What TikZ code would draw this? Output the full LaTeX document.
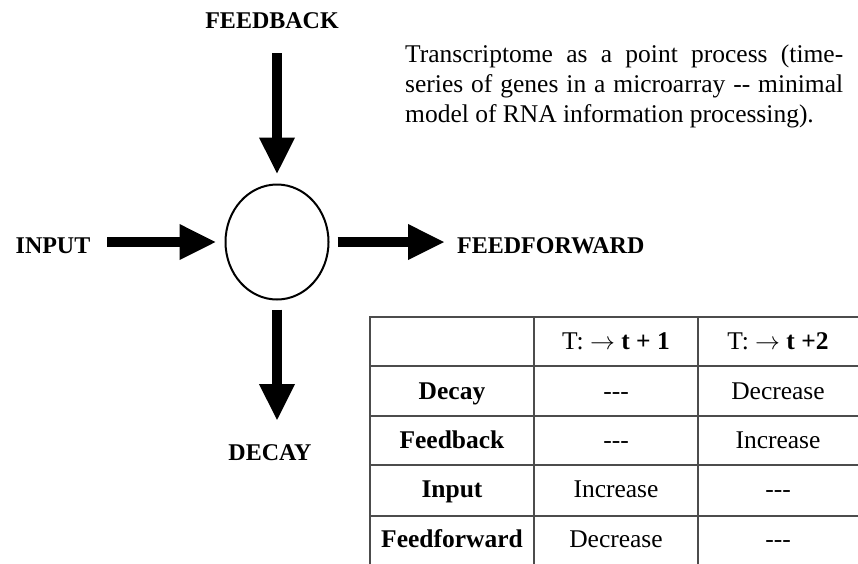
\documentclass[tikz,border=0pt]{standalone}
\usepackage{fontspec}
\setmainfont{Liberation Serif}
\usetikzlibrary{arrows.meta,shapes.geometric}

\newcommand{\nochange}{{-}{-}{-}}

\begin{document}
\begin{tikzpicture}[
        x=1pt, y=-1pt,
        fat/.style={line width=10pt, -{Triangle[width=33pt,length=37pt]}},
        lbl/.style={font=\fontsize{24}{28}\selectfont\bfseries, inner sep=0pt},
        tcell/.style={font=\fontsize{25.5}{28}\selectfont, inner sep=0pt,
            text height=0.7em, text depth=0.25em},
        thead/.style={tcell, font=\fontsize{25.5}{28}\selectfont\bfseries},
        tline/.style={black!70, line width=1.2pt},
    ]
    \useasboundingbox (0,0) rectangle (858,563);
    % node and its four flows
    \node[ellipse, draw, line width=2pt, minimum width=103pt, minimum height=115pt,
          inner sep=0pt] (cell) at (277,242) {};
    \node[lbl] (feedback) at (272,21) {FEEDBACK};
    \node[lbl] (input) at (53,246) {INPUT};
    \node[lbl, anchor=west] (feedforward) at (457,246) {FEEDFORWARD};
    \node[lbl] (decay) at (270,453) {DECAY};
    \coordinate (fbstart) at (277,53);
    \coordinate (instart) at (107,242);
    \coordinate (ffend) at (445,242);
    \coordinate (dcend) at (277,421);
    \draw[fat, shorten >=9pt] (fbstart) -- (cell.north);
    \draw[fat, shorten >=8pt] (instart) -- (cell.west);
    \draw[fat, shorten <=8pt] (cell.east) -- (ffend);
    \draw[fat, shorten <=9pt] (cell.south) -- (dcend);
    % caption
    \node[anchor=north west, inner sep=0pt, text width=438pt, align=justify,
          font=\fontsize{25.5}{30}\selectfont] (caption) at (405,45)
        {Transcriptome as a point process (time-\linebreak
         series of genes in a microarray {-}{-} minimal\linebreak
         model of RNA information processing).};
    % table
    \draw[tline] (370,317) rectangle (862,568);
    \foreach \y in {366,416,465,516} \draw[tline] (370,\y) -- (862,\y);
    \foreach \x in {534,698} \draw[tline] (\x,317) -- (\x,568);
    \node[tcell] (h1) at (616,347) {T: $\rightarrow$ \textbf{t + 1}};
    \node[tcell] (h2) at (778,347) {T: $\rightarrow$ \textbf{t +2}};
    \node[thead] (r1) at (452,397) {Decay};
    \node[thead] (r2) at (452,446) {Feedback};
    \node[thead] (r3) at (452,495) {Input};
    \node[thead] (r4) at (452,545) {Feedforward};
    \node[tcell] (c11) at (616,397) {\nochange};
    \node[tcell] (c12) at (778,397) {Decrease};
    \node[tcell] (c21) at (616,446) {\nochange};
    \node[tcell] (c22) at (778,446) {Increase};
    \node[tcell] (c31) at (616,495) {Increase};
    \node[tcell] (c32) at (778,495) {\nochange};
    \node[tcell] (c41) at (616,545) {Decrease};
    \node[tcell] (c42) at (778,545) {\nochange};
\end{tikzpicture}
\end{document}
